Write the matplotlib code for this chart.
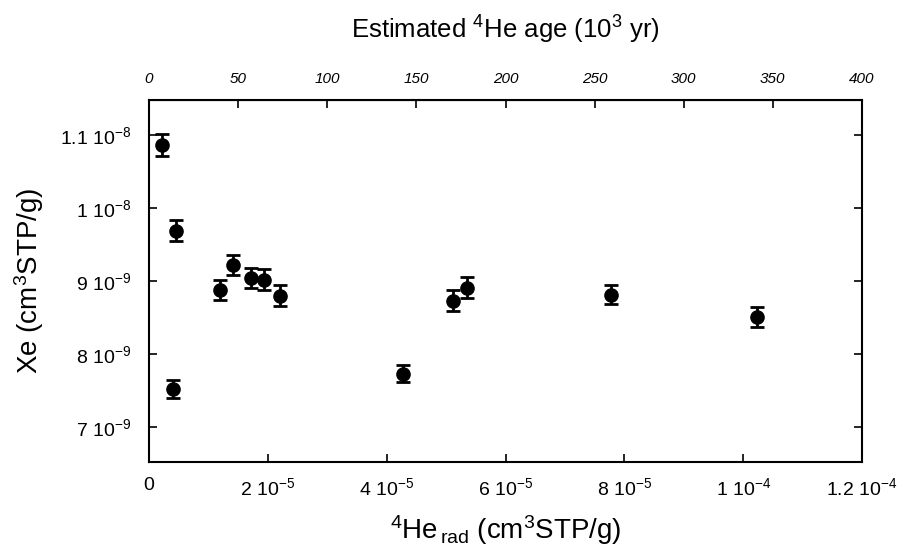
import matplotlib
matplotlib.use('Agg')
import matplotlib.pyplot as plt
import numpy as np

plt.rcParams['font.family'] = ['Liberation Sans', 'DejaVu Sans']
plt.rcParams['mathtext.fontset'] = 'custom'
plt.rcParams['mathtext.rm'] = 'Liberation Sans'
plt.rcParams['mathtext.it'] = 'Liberation Sans:italic'

# ---- data ----
he_rad = [2.1e-6, 4.5e-6, 4.1e-6, 1.195e-5, 1.42e-5, 1.71e-5, 1.93e-5, 2.21e-5,
          4.27e-5, 5.11e-5, 5.35e-5, 7.77e-5, 1.024e-4]
xe = [1.086e-8, 9.69e-9, 7.52e-9, 8.88e-9, 9.22e-9, 9.04e-9, 9.02e-9, 8.80e-9,
      7.73e-9, 8.73e-9, 8.91e-9, 8.81e-9, 8.51e-9]
xe_err = [1.5e-10, 1.45e-10, 1.2e-10, 1.4e-10, 1.4e-10, 1.4e-10, 1.4e-10, 1.4e-10,
          1.2e-10, 1.4e-10, 1.4e-10, 1.3e-10, 1.35e-10]

x_ticks = [0, 2e-5, 4e-5, 6e-5, 8e-5, 1e-4, 1.2e-4]
x_ticklabels = ['0', r'2 10$^{-5}$', r'4 10$^{-5}$', r'6 10$^{-5}$', r'8 10$^{-5}$',
                r'1 10$^{-4}$', r'1.2 10$^{-4}$']
y_ticks = [7e-9, 8e-9, 9e-9, 1e-8, 1.1e-8]
y_ticklabels = [r'7 10$^{-9}$', r'8 10$^{-9}$', r'9 10$^{-9}$', r'1 10$^{-8}$', r'1.1 10$^{-8}$']
age_ticks = [0, 50, 100, 150, 200, 250, 300, 350, 400]
age_per_he = 400 / 1.2e-4  # 10^3 yr per cm3STP/g

fig = plt.figure(figsize=(9.01, 5.51), dpi=100)
ax = fig.add_axes([0.1654, 0.1615, 0.7913, 0.657])

ax.errorbar(he_rad, xe, yerr=xe_err, fmt='o', color='black', markersize=9.5,
            elinewidth=2, capsize=5, capthick=2)

ax.set_xlim(0, 1.2e-4)
ax.set_ylim(6.52e-9, 1.148e-8)
ax.set_xticks(x_ticks)
ax.set_xticklabels(x_ticklabels, fontsize=14)
ax.set_yticks(y_ticks)
ax.set_yticklabels(y_ticklabels, fontsize=14)
ax.tick_params(axis='x', direction='in', length=6, width=1.2, pad=11)
ax.tick_params(axis='y', direction='in', length=6, width=1.2, pad=13, right=True)
for sp in ax.spines.values():
    sp.set_linewidth(1.5)

ax.set_xlabel(r'$^4$He$_{\rm \,rad}$ (cm$^3$STP/g)', fontsize=20, labelpad=10)
ax.set_ylabel(r'Xe (cm$^3$STP/g)', fontsize=20, labelpad=10)

top = ax.secondary_xaxis('top', functions=(lambda v: v * age_per_he, lambda v: v / age_per_he))
top.set_xticks(age_ticks)
top.set_xticklabels([str(t) for t in age_ticks], fontsize=11, style='italic')
top.tick_params(direction='in', length=6, width=1.2, pad=10)
top.set_xlabel(r'Estimated $^4$He age (10$^3$ yr)', fontsize=18.5, labelpad=24)

plt.savefig('out.png', dpi=100)
